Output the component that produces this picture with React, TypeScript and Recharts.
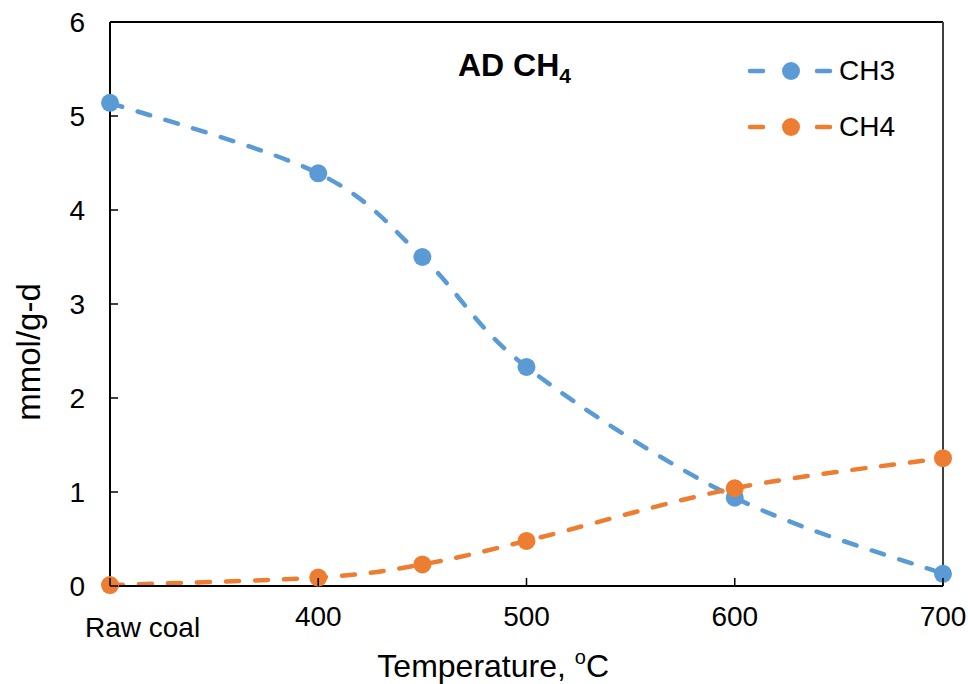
import React from 'react';
import { LineChart, Line, XAxis, YAxis, ReferenceLine } from 'recharts';

// Temperature (°C); "Raw coal" is drawn at the 300 slot
const temps = [300, 400, 450, 500, 600, 700];
const ch3 = [5.14, 4.39, 3.5, 2.33, 0.94, 0.13];
const ch4 = [0.01, 0.09, 0.23, 0.48, 1.04, 1.36];
const xTicks = [300, 400, 500, 600, 700];
const yTicks = [0, 1, 2, 3, 4, 5, 6];

const BLUE = '#5B9BD5';
const ORANGE = '#ED7D31';
const FONT = '"Liberation Sans", Arial, sans-serif';

const data = temps.map((t, i) => ({ t, ch3: ch3[i], ch4: ch4[i] }));

// smoothed line like Excel's (Catmull-Rom style bezier)
const smoothCurve = (context: any) => {
  let pts: number[][] = [];
  return {
    areaStart() {},
    areaEnd() {},
    lineStart() {
      pts = [];
    },
    point(x: number, y: number) {
      pts.push([+x, +y]);
    },
    lineEnd() {
      if (!pts.length) return;
      context.moveTo(pts[0][0], pts[0][1]);
      for (let i = 0; i < pts.length - 1; i++) {
        const p0 = pts[i - 1] || pts[i];
        const p1 = pts[i];
        const p2 = pts[i + 1];
        const p3 = pts[i + 2] || p2;
        context.bezierCurveTo(
          p1[0] + (p2[0] - p0[0]) / 6,
          p1[1] + (p2[1] - p0[1]) / 6,
          p2[0] - (p3[0] - p1[0]) / 6,
          p2[1] - (p3[1] - p1[1]) / 6,
          p2[0],
          p2[1]
        );
      }
    },
  };
};

const XTick = (props: any) => {
  const { x, y, payload } = props;
  const raw = payload.value === 300;
  return (
    <g>
      <line x1={x} x2={x} y1={y} y2={y - 8} stroke="#000" strokeWidth={1.5} />
      <text
        x={raw ? x - 25 : x}
        y={raw ? y + 51 : y + 40}
        textAnchor={raw ? 'start' : 'middle'}
        fontSize={28}
        fontFamily={FONT}
        fill="#000"
      >
        {raw ? 'Raw coal' : payload.value}
      </text>
    </g>
  );
};

const YTick = (props: any) => {
  const { x, y, payload } = props;
  return (
    <g>
      <line x1={x} x2={x + 8} y1={y} y2={y} stroke="#000" strokeWidth={1.5} />
      <text x={x - 25} y={y + 10} textAnchor="end" fontSize={28} fontFamily={FONT} fill="#000">
        {payload.value}
      </text>
    </g>
  );
};

const XTitle = (props: any) => {
  const { viewBox } = props;
  return (
    <text x={viewBox.x + viewBox.width * 0.46} y={viewBox.y + 91} textAnchor="middle" fontSize={32} fontFamily={FONT} fill="#000">
      Temperature, <tspan fontSize={20} dy={-13}>o</tspan><tspan dy={13}>C</tspan>
    </text>
  );
};

const YTitle = (props: any) => {
  const { viewBox } = props;
  const cx = viewBox.x - 42;
  const cy = 352;
  return (
    <text x={cx} y={cy} transform={`rotate(-90 ${cx} ${cy})`} textAnchor="middle" dominantBaseline="central" fontSize={33} fontFamily={FONT} fill="#000">
      mmol/g-d
    </text>
  );
};

const LegendBox = () => {
  const items = [
    { name: 'CH3', color: BLUE },
    { name: 'CH4', color: ORANGE },
  ];
  return (
    <div style={{ position: 'absolute', left: 745, top: 43, fontFamily: FONT }}>
      {items.map((it) => (
        <div key={it.name} style={{ display: 'flex', alignItems: 'center', height: 56 }}>
          <svg width={92} height={24}>
            <line x1={5} x2={18} y1={12} y2={12} stroke={it.color} strokeWidth={4.5} strokeLinecap="round" />
            <circle cx={46} cy={12} r={9} fill={it.color} />
            <line x1={72} x2={85} y1={12} y2={12} stroke={it.color} strokeWidth={4.5} strokeLinecap="round" />
          </svg>
          <span style={{ fontSize: 28, color: '#000', marginLeft: 2 }}>{it.name}</span>
        </div>
      ))}
    </div>
  );
};

export default function App() {
  return (
    <div style={{ position: 'absolute', left: 0, top: 0, width: 968, height: 684, background: '#fff' }}>
      <LineChart
        width={968}
        height={684}
        data={data}
        margin={{ top: 22, right: 25, bottom: 38, left: 70 }}
      >
        <XAxis
          dataKey="t"
          type="number"
          domain={[300, 700]}
          ticks={xTicks}
          tickSize={0}
          tickMargin={0}
          height={60}
          tick={<XTick />}
          axisLine={{ stroke: '#000', strokeWidth: 2 }}
          label={<XTitle />}
        />
        <YAxis
          type="number"
          domain={[0, 6]}
          ticks={yTicks}
          tickSize={0}
          tickMargin={0}
          width={40}
          tick={<YTick />}
          axisLine={{ stroke: '#000', strokeWidth: 2 }}
          label={<YTitle />}
        />
        <ReferenceLine y={6} stroke="#000" strokeWidth={2} />
        <ReferenceLine x={700} stroke="#404040" strokeWidth={2} />
        <Line
          type={smoothCurve as any}
          dataKey="ch3"
          name="CH3"
          stroke={BLUE}
          strokeWidth={4.5}
          strokeDasharray="13 16"
          strokeLinecap="round"
          dot={{ r: 9, fill: BLUE, stroke: 'none', strokeDasharray: '' }}
          isAnimationActive={false}
        />
        <Line
          type={smoothCurve as any}
          dataKey="ch4"
          name="CH4"
          stroke={ORANGE}
          strokeWidth={4.5}
          strokeDasharray="13 16"
          strokeLinecap="round"
          dot={{ r: 9, fill: ORANGE, stroke: 'none', strokeDasharray: '' }}
          isAnimationActive={false}
        />
      </LineChart>
      <LegendBox />
      <div
        style={{
          position: 'absolute',
          left: 458,
          top: 46,
          fontFamily: FONT,
          fontWeight: 'bold',
          fontSize: 32,
          color: '#000',
          lineHeight: '38px',
        }}
      >
        AD CH<sub style={{ fontSize: 21, verticalAlign: -7 }}>4</sub>
      </div>
    </div>
  );
}
